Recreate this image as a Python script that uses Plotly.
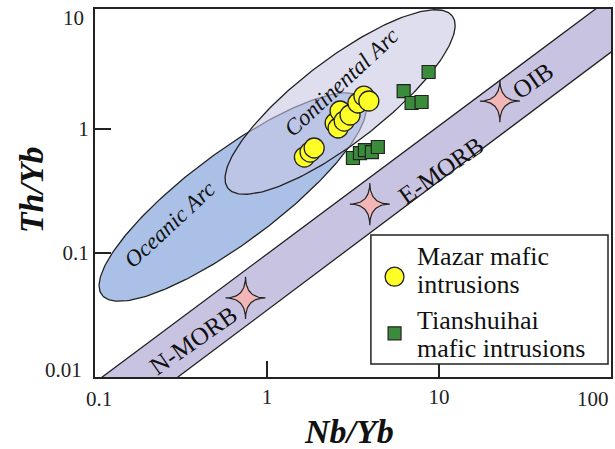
import numpy as np
import plotly.graph_objects as go

# ---- sample data -------------------------------------------------------
mazar_nb_yb = [1.65, 1.78, 1.88, 2.49, 2.59, 2.66, 2.81, 3.04, 3.38, 3.66, 3.91]
mazar_th_yb = [0.594, 0.652, 0.703, 1.118, 1.019, 1.397, 1.160, 1.297, 1.621, 1.845, 1.682]

tian_nb_yb = [3.16, 3.47, 3.71, 4.07, 4.41, 6.23, 6.93, 7.92, 8.70]
tian_th_yb = [0.584, 0.640, 0.677, 0.652, 0.716, 2.025, 1.621, 1.651, 2.883]

# reference mantle compositions
ref_names = ["N-MORB", "E-MORB", "OIB"]
ref_nb_yb = [0.75, 3.96, 22.6]
ref_th_yb = [0.0434, 0.248, 1.68]

# MORB-OIB mantle array: upper and lower edges (end points)
array_upper_nb = [0.06, 150.0]
array_upper_th = [0.00533, 17.5]
array_lower_nb = [150.0, 0.06]
array_lower_th = [6.36, 0.00185]

# arc fields as ellipses in log10 space: centre, half major axis, half minor axis
oceanic_centre = [-0.1994, -0.5484]
oceanic_major = [0.7612, 0.7883]
oceanic_minor = [0.155, -0.2914]

continental_centre = [0.4249, 0.2177]
continental_major = [0.6525, 0.694]
continental_minor = [0.1471, -0.2693]

# axis tick labels
x_ticks = [1, 10]
y_ticks = [0.1, 1]

# legend entries
legend_labels = [["Mazar mafic", "intrusions"], ["Tianshuihai", "mafic intrusions"]]


def ellipse(centre, major, minor, n=240):
    t = np.linspace(0, 2 * np.pi, n)
    lx = centre[0] + major[0] * np.cos(t) + minor[0] * np.sin(t)
    ly = centre[1] + major[1] * np.cos(t) + minor[1] * np.sin(t)
    return 10 ** lx, 10 ** ly


def four_point_star(x, y, rx=0.116, ry=0.17, n=160):
    """Concave four-pointed star centred on (x, y); radii in decades."""
    t = np.linspace(0, 2 * np.pi, n)
    c, s = np.cos(t), np.sin(t)
    dx = rx * np.sign(c) * np.abs(c) ** 4
    dy = ry * np.sign(s) * np.abs(s) ** 4
    return 10 ** (np.log10(x) + dx), 10 ** (np.log10(y) + dy)


SERIF = "Liberation Serif, Times New Roman, serif"
INK = "#222222"

fig = go.Figure()

# mantle array band
fig.add_trace(go.Scatter(
    x=array_upper_nb + array_lower_nb,
    y=array_upper_th + array_lower_th,
    mode="lines", fill="toself",
    fillcolor="rgb(201,195,226)",
    line=dict(color=INK, width=1.3),
    showlegend=False, hoverinfo="skip",
))

# oceanic arc field
ox, oy = ellipse(oceanic_centre, oceanic_major, oceanic_minor)
fig.add_trace(go.Scatter(
    x=ox, y=oy, mode="lines", fill="toself",
    fillcolor="rgb(170,192,230)",
    line=dict(color=INK, width=1.3),
    showlegend=False, hoverinfo="skip",
))

# continental arc field (translucent over the oceanic one)
cx, cy = ellipse(continental_centre, continental_major, continental_minor)
fig.add_trace(go.Scatter(
    x=cx, y=cy, mode="none", fill="toself",
    fillcolor="rgba(200,200,228,0.6)",
    showlegend=False, hoverinfo="skip",
))
fig.add_trace(go.Scatter(
    x=cx, y=cy, mode="lines",
    line=dict(color=INK, width=1.3),
    showlegend=False, hoverinfo="skip",
))

# N-MORB / E-MORB / OIB stars
for nb, th in zip(ref_nb_yb, ref_th_yb):
    sx, sy = four_point_star(nb, th)
    fig.add_trace(go.Scatter(
        x=sx, y=sy, mode="lines", fill="toself",
        fillcolor="rgb(242,182,182)",
        line=dict(color=INK, width=1.2),
        showlegend=False, hoverinfo="skip",
    ))

fig.add_trace(go.Scatter(
    x=mazar_nb_yb, y=mazar_th_yb, mode="markers",
    name="Mazar mafic intrusions",
    marker=dict(symbol="circle", size=20, color="rgb(255,255,40)",
                line=dict(color=INK, width=1.3)),
    showlegend=False,
))
fig.add_trace(go.Scatter(
    x=tian_nb_yb, y=tian_th_yb, mode="markers",
    name="Tianshuihai mafic intrusions",
    marker=dict(symbol="square", size=13, color="rgb(58,140,58)",
                line=dict(color=INK, width=1.2)),
    showlegend=False,
))

annotations = []
shapes = []


def label(text, lx, ly, angle, size=22, italic=False):
    annotations.append(dict(
        x=lx, y=ly, xref="x", yref="y", text=text, showarrow=False,
        textangle=angle, xanchor="center", yanchor="middle",
        font=dict(family=SERIF, size=size, color="#111111",
                  style="italic" if italic else "normal"),
    ))


label("Oceanic Arc", -0.5636, -0.774, -43, size=23, italic=True)
label("Continental Arc", 0.4306, 0.379, -43, size=23, italic=True)
label("N-MORB", -0.4306, -1.702, -35, size=25)
label("E-MORB", 1.0087, -0.331, -35, size=25)
label("OIB", 1.546, 0.395, -35, size=25)

# end-of-axis labels
tick_font = dict(family=SERIF, size=21, color=INK)
annotations.append(dict(x=-1, y=0, xref="x", yref="paper", text="0.1",
                        showarrow=False, yanchor="top", yshift=-8, xshift=4,
                        font=tick_font))
annotations.append(dict(x=2, y=0, xref="x", yref="paper", text="100",
                        showarrow=False, yanchor="top", yshift=-8, xanchor="right",
                        font=tick_font))
annotations.append(dict(x=0, y=-2, xref="paper", yref="y", text="0.01",
                        showarrow=False, xanchor="right", yanchor="middle",
                        xshift=-11, yshift=7, font=tick_font))
annotations.append(dict(x=0, y=1, xref="paper", yref="paper", text="10",
                        showarrow=False, xanchor="right", yanchor="middle",
                        xshift=-9, yshift=-9, font=tick_font))

# axis titles
title_font = dict(family=SERIF, size=34, color="#111111", weight="bold", style="italic")
annotations.append(dict(x=0.4923, y=-0.147, xref="paper", yref="paper", text="Nb/Yb",
                        showarrow=False, xanchor="center", yanchor="middle",
                        font=title_font))
annotations.append(dict(x=-0.1236, y=0.508, xref="paper", yref="paper", text="Th/Yb",
                        showarrow=False, textangle=-90, xanchor="center",
                        yanchor="middle", font=title_font))

# key box with symbols and two-line labels
shapes.append(dict(type="rect", xref="paper", yref="paper",
                   x0=0.5347, x1=0.9942, y0=0.0353, y1=0.3859,
                   line=dict(color=INK, width=1.5), fillcolor="white", layer="above"))
shapes.append(dict(type="circle", xref="paper", yref="paper",
                   x0=0.5622, x1=0.5988, y0=0.2467, y1=0.2984,
                   line=dict(color=INK, width=1.3), fillcolor="rgb(255,255,40)",
                   layer="above"))
shapes.append(dict(type="rect", xref="paper", yref="paper",
                   x0=0.5680, x1=0.5931, y0=0.1011, y1=0.1364,
                   line=dict(color=INK, width=1.2), fillcolor="rgb(58,140,58)",
                   layer="above"))
legend_font = dict(family=SERIF, size=26, color="#111111")
line_ys = [[0.3288, 0.2527], [0.1522, 0.0788]]
for lines, ys in zip(legend_labels, line_ys):
    for text, yy in zip(lines, ys):
        annotations.append(dict(x=0.621, y=yy, xref="paper", yref="paper", text=text,
                                showarrow=False, xanchor="left", yanchor="middle",
                                font=legend_font))

axis_common = dict(
    type="log", showgrid=False, zeroline=False,
    showline=True, linecolor=INK, linewidth=2, mirror=True,
    ticks="inside", ticklen=16, tickwidth=1.5, tickcolor=INK,
    tickfont=tick_font, layer="above traces",
)

fig.update_layout(
    width=615, height=449,
    margin=dict(l=95, r=2, t=9, b=72),
    paper_bgcolor="white", plot_bgcolor="white",
    xaxis=dict(range=[-1, 2], tickvals=x_ticks, ticktext=[str(v) for v in x_ticks],
               **axis_common),
    yaxis=dict(range=[-2, 0.968], tickvals=y_ticks, ticktext=[str(v) for v in y_ticks],
               **axis_common),
    showlegend=False,
    annotations=annotations,
    shapes=shapes,
    hovermode=False,
)

fig.write_html("out.html", config={"displayModeBar": False})
